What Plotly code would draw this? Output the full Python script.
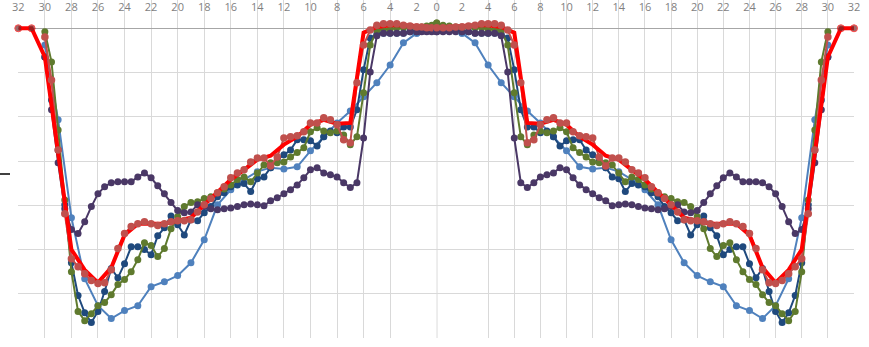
import plotly.graph_objects as go

# ---------------- data (mirror-symmetric profile) ----------------
# 0.5-step series: left half x=-30..0 ; right half listed from x=30 down to 0
x_left = [-30 + 0.5 * i for i in range(61)]
x_right = [30 - 0.5 * i for i in range(61)]
# 1-step series
xi_left = [-30 + i for i in range(31)]
xi_right = [30 - i for i in range(31)]
# red reference line, 1-step, from the outer edge
xr_left = [-32 + i for i in range(33)]
xr_right = [32 - i for i in range(33)]

navy_left = [6.5, 16.2, 27.5, 39.9, 53.0, 60.4, 64.3, 66.5, 64.0, 59.5, 54.3, 56.4, 53.2, 49.4, 49.4, 50.0,
             51.2, 46.9, 45.1, 42.4, 44.4, 46.7, 43.3, 43.5, 41.7, 40.3, 38.1, 37.2, 35.8, 35.4, 35.1, 36.9,
             34.0, 33.6, 31.5, 29.7, 28.6, 27.5, 25.2, 25.2, 25.4, 26.6, 24.5, 23.2, 23.6, 22.3, 22.3, 18.4,
             9.4, 2.2, 1.3, 1.1, 1.1, 1.1, 1.1, 0.8, 0.8, 0.6, 0.6, 0.4, 0.4]
navy_right = [6.5, 16.2, 27.5, 39.9, 53.0, 60.4, 64.3, 66.5, 64.0, 59.5, 54.3, 56.4, 53.2, 49.4, 49.4, 50.0,
              51.2, 46.9, 45.1, 42.4, 44.4, 46.7, 43.3, 43.5, 41.7, 40.3, 38.1, 37.2, 35.8, 35.4, 35.1, 36.9,
              34.0, 33.6, 31.5, 29.7, 28.6, 27.5, 25.2, 25.2, 25.4, 26.6, 24.5, 23.2, 23.6, 22.3, 22.3, 18.4,
              9.4, 2.2, 1.3, 1.1, 1.1, 1.1, 1.1, 0.8, 0.8, 0.6, 0.6, 0.4, 0.4]

green_left = [0.8, 7.6, 23.0, 38.8, 55.0, 64.0, 66.1, 64.5, 62.7, 62.0, 60.2, 57.9, 56.8, 55.0, 52.3, 48.5,
              49.1, 51.6, 49.8, 45.3, 42.6, 40.3, 39.4, 39.2, 38.5, 38.1, 37.2, 36.3, 35.4, 34.2, 33.6, 34.7,
              32.7, 30.9, 30.4, 30.4, 30.2, 29.1, 28.1, 27.0, 23.4, 22.5, 23.2, 23.6, 23.2, 24.1, 26.3, 24.5,
              14.6, 3.8, 0.4, 0.2, 0.2, -0.1, -0.1, -0.3, -0.1, -0.3, -0.5, -0.7, -1.2]
green_right = [0.8, 7.6, 23.0, 38.8, 55.0, 64.0, 66.1, 64.5, 62.7, 62.0, 60.2, 57.9, 56.8, 55.0, 52.3, 48.5,
               49.1, 51.6, 49.8, 45.3, 42.6, 40.3, 39.4, 39.2, 38.5, 38.1, 37.2, 36.3, 35.4, 34.2, 33.6, 34.7,
               32.7, 30.9, 30.4, 30.4, 30.2, 29.1, 28.1, 27.0, 23.4, 22.5, 23.2, 23.6, 23.2, 24.1, 26.3, 24.5,
               14.6, 3.8, 0.4, 0.2, 0.2, -0.1, -0.1, -0.3, -0.1, -0.3, -0.5, -0.7, -1.2]

purple_left = [6.5, 18.4, 30.4, 40.8, 45.5, 46.4, 43.7, 40.3, 37.4, 35.8, 34.9, 34.7, 34.7, 34.7, 33.6, 32.7,
               33.8, 35.6, 37.4, 39.4, 41.2, 41.7, 41.5, 39.9, 40.3, 40.8, 41.0, 40.8, 40.6, 40.3, 39.9, 39.7,
               39.9, 40.1, 39.0, 38.3, 37.4, 36.5, 35.4, 33.8, 32.0, 31.5, 32.7, 33.1, 33.6, 34.9, 36.0, 34.9,
               24.8, 9.9, 1.7, 1.1, 1.1, 1.1, 1.1, 0.8, 0.8, 0.8, 0.8, 0.8, 0.8]
purple_right = [6.5, 18.4, 30.4, 40.8, 45.5, 46.4, 43.7, 40.3, 37.4, 35.8, 34.9, 34.7, 34.7, 34.7, 33.6, 32.7,
                33.8, 35.6, 37.4, 39.4, 41.2, 41.7, 41.5, 39.9, 40.3, 40.8, 41.0, 40.8, 40.6, 40.3, 39.9, 39.7,
                39.9, 40.1, 39.0, 38.3, 37.4, 36.5, 35.4, 33.8, 32.0, 31.5, 32.7, 33.1, 33.6, 34.9, 36.0, 34.9,
                24.8, 9.9, 1.7, 1.1, 1.1, 1.1, 1.1, 0.8, 0.8, 0.8, 0.8, 0.8, 0.8]

salmon_left = [2.0, 11.7, 27.5, 41.9, 52.1, 53.9, 55.5, 57.0, 57.7, 57.5, 54.6, 49.8, 46.4, 44.8, 44.2, 43.7,
               44.2, 44.6, 44.2, 43.7, 43.5, 43.5, 43.3, 41.5, 39.9, 38.5, 37.2, 35.8, 33.8, 32.7, 32.0, 30.2,
               29.3, 29.3, 31.1, 29.1, 24.8, 24.5, 24.3, 23.4, 21.4, 21.4, 20.2, 20.7, 21.8, 25.2, 25.9, 12.3,
               3.8, 0.4, -0.7, -1.0, -1.0, -1.0, -0.7, -0.5, -0.3, -0.3, -0.1, -0.1, -0.1]
salmon_right = [2.0, 11.7, 27.5, 41.9, 52.1, 53.9, 55.5, 57.0, 57.7, 57.5, 54.6, 49.8, 46.4, 44.8, 44.2, 43.7,
                44.2, 44.6, 44.2, 43.7, 43.5, 43.5, 43.3, 41.5, 39.9, 38.5, 37.2, 35.8, 33.8, 32.7, 32.0, 30.2,
                29.3, 29.3, 31.1, 29.1, 24.8, 24.5, 24.3, 23.4, 21.4, 21.4, 20.2, 20.7, 21.8, 25.2, 25.9, 12.3,
                3.8, 0.4, -0.7, -1.0, -1.0, -1.0, -0.7, -0.5, -0.3, -0.3, -0.1, -0.1, -0.1]

blue_left = [3.8, 20.7, 42.8, 56.6, 62.7, 65.6, 63.8, 62.7, 58.4, 57.3, 55.9, 53.0, 47.8, 39.9, 36.5, 34.2,
             32.4, 31.5, 31.8, 31.3, 27.7, 24.5, 21.4, 18.7, 15.5, 12.3, 8.3, 3.3, 1.1, 0.6, 0.4]
blue_right = [3.8, 20.7, 42.8, 56.6, 62.7, 65.6, 63.8, 62.7, 58.4, 57.3, 55.9, 53.0, 47.8, 39.9, 36.5, 34.2,
              32.4, 31.5, 31.8, 31.3, 27.7, 24.5, 21.4, 18.7, 15.5, 12.3, 8.3, 3.3, 1.1, 0.6, 0.4]

red_left = [0.0, 0.0, 6.5, 27.5, 50.0, 54.6, 57.5, 54.1, 46.7, 44.2, 44.2, 44.2, 43.5, 42.8, 39.9, 37.2, 34.2,
            32.0, 29.7, 28.8, 26.3, 24.5, 21.8, 20.7, 21.6, 21.4, 1.0, -0.3, -0.7, -0.7, -0.5, -0.3, -0.1]
red_right = [0.0, 0.0, 6.5, 27.5, 50.0, 54.6, 57.5, 54.1, 46.7, 44.2, 44.2, 44.2, 43.5, 42.8, 39.9, 37.2, 34.2,
             32.0, 29.7, 28.8, 26.3, 24.5, 21.8, 20.7, 21.6, 21.4, 1.0, -0.3, -0.7, -0.7, -0.5, -0.3, -0.1]

tick_positions = list(range(-32, 33, 2))

# ---------------- layout geometry ----------------
W, H = 869, 347
ML, MR, MT, MB = 18, 15, 0, 9
PW = W - ML - MR
# piecewise horizontal scale (the picture is slightly uneven around the centre)
segments = [("x", -32, -2, 18.3, 416.7), ("x2", -2, 0, 416.7, 436.7),
            ("x3", 0, 2, 436.7, 462.0), ("x4", 2, 32, 462.0, 854.0)]

GRID = "#d9d9d9"
C_BLUE = "#4f81bd"
C_NAVY = "#1f497d"
C_GREEN = "#5f7a2e"
C_PURPLE = "#4a3866"
C_SALMON = "#c0504d"
C_RED = "#ff0000"
C_DARKRED = "#76292b"

fig = go.Figure()


def add_series(xs, ys, side, **kw):
    for name, lo, hi, _, _ in segments:
        if side == "left" and name not in ("x", "x2"):
            continue
        if side == "right" and name not in ("x3", "x4"):
            continue
        pts = [(a, b) for a, b in zip(xs, ys) if lo <= a <= hi]
        if len(pts) < 1:
            continue
        if "msize" in kw:
            marker = dict(size=[kw["msize"](a) for a, _ in pts], color=kw["mcolor"])
        else:
            marker = dict(size=kw.get("size", 7), color=kw.get("color"))
        fig.add_trace(go.Scatter(
            x=[p[0] for p in pts], y=[p[1] for p in pts],
            xaxis=name, yaxis="y", mode=kw.get("mode", "lines+markers"),
            line=dict(color=kw.get("color"), width=kw.get("width", 2)),
            marker=marker, cliponaxis=False, hoverinfo="skip", showlegend=False))


series = [
    (xi_left, blue_left, xi_right, blue_right, C_BLUE),
    (x_left, navy_left, x_right, navy_right, C_NAVY),
    (x_left, green_left, x_right, green_right, C_GREEN),
    (x_left, purple_left, x_right, purple_right, C_PURPLE),
]
for xl, yl, xr, yr, col in series:
    add_series(xl, yl, "left", color=col)
    add_series(xr, yr, "right", color=col)

# salmon line under the red line
add_series(x_left, salmon_left, "left", color=C_SALMON, mode="lines", width=2)
add_series(x_right, salmon_right, "right", color=C_SALMON, mode="lines", width=2)
# thick red reference line with dark end markers
endsize = lambda a: 7 if abs(a) > 30 else 0
add_series(xr_left, red_left, "left", color=C_RED, width=4, msize=endsize, mcolor=C_DARKRED)
add_series(xr_right, red_right, "right", color=C_RED, width=4, msize=endsize, mcolor=C_DARKRED)
# salmon markers on top
add_series(x_left, salmon_left, "left", color=C_SALMON, mode="markers", size=7.5)
add_series(x_right, salmon_right, "right", color=C_SALMON, mode="markers", size=7.5)

layout = dict(width=W, height=H, margin=dict(l=ML, r=MR, t=MT, b=MB),
              plot_bgcolor="white", paper_bgcolor="white", showlegend=False,
              yaxis=dict(range=[70, -6.39], tick0=0, dtick=10, showgrid=True, gridcolor=GRID, gridwidth=1,
                         zeroline=True, zerolinecolor="#a6a6a6", zerolinewidth=1, showticklabels=False,
                         ticks="", showline=False, anchor="x"))
for name, lo, hi, p0, p1 in segments:
    key = "xaxis" if name == "x" else "xaxis" + name[1:]
    tv = [t for t in tick_positions if lo <= t <= hi]
    if name == "x2":
        tv = []
    if name == "x3":
        tv = [0]
    layout[key] = dict(range=[lo, hi], domain=[max(0, (p0 - ML) / PW), min(1, (p1 - ML) / PW)],
                       anchor="y", side="top", tickvals=tv, ticktext=[str(abs(t)) for t in tv],
                       showgrid=True, gridcolor=GRID, gridwidth=1, zeroline=False, showline=False,
                       ticks="", ticklabelposition="inside", ticklabelstandoff=0,
                       ticklabeloverflow="allow",
                       tickfont=dict(family="Open Sans, Arial", size=11, color="#7f7f7f"))
fig.update_layout(**layout)

# darker vertical centre line and the small black mark at the left edge
fig.add_shape(type="line", xref="x3", yref="paper", x0=0, x1=0, y0=0, y1=1,
              line=dict(color="#bfbfbf", width=1.2), layer="below")
fig.add_shape(type="line", xref="paper", yref="paper", x0=(0 - ML) / PW, x1=(10 - ML) / PW,
              y0=1 - 174 / (H - MT - MB), y1=1 - 174 / (H - MT - MB), line=dict(color="black", width=1.5))

fig.write_html("out.html", config={"displayModeBar": False},
               post_script="document.body.style.margin='0';document.body.style.overflow='hidden';")
